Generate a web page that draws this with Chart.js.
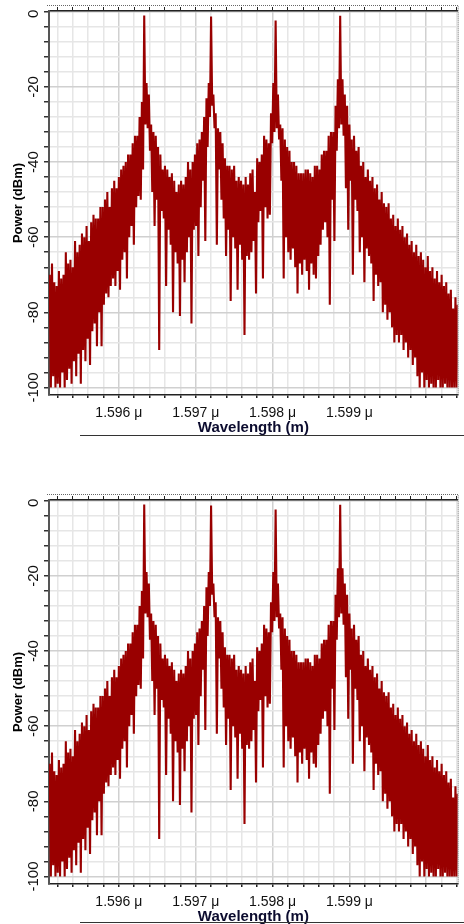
<!DOCTYPE html>
<html>
<head>
<meta charset="utf-8">
<script src="https://cdn.jsdelivr.net/npm/chart.js@4"></script>
<style>
  body { margin: 0; background: #fff; width: 464px; height: 924px; overflow: hidden; position: relative; }
  canvas { position: absolute; left: 0; }
  .rule { position: absolute; left: 80px; width: 384px; height: 1px; background: #333; }
</style>
</head>
<body>
<canvas id="chart1" width="464" height="435" style="top:0"></canvas>
<div class="rule" style="top:435px"></div>
<canvas id="chart2" width="464" height="435" style="top:489px"></canvas>
<div class="rule" style="top:922px"></div>
<script>
// spectrum: one sample every 0.00003 um starting at wlStart
// peakDb = top of each sample's excursion, dipDb = bottom of it (dBm)
const wlStart = 1.59510;
const wlStep = 0.00003;

const peakDb = [
  -70, -67, -72, -73, -69, -71, -70, -64, -67, -66,
  -68, -61, -64, -62, -59, -60, -57, -61, -56, -54,
  -55, -55, -52, -52, -50, -48, -52, -47, -45, -47,
  -44, -42, -41, -40, -38, -38, -35, -33, -33, -28,
  -24, -1, -19, -22, -30, -32, -33, -36, -38, -42,
  -41, -42, -44, -43, -45, -48, -46, -45, -46, -44,
  -40, -42, -40, -38, -35, -34, -32, -28, -23, -19,
  -1.3, -22, -27, -31, -32, -35, -39, -41, -41, -42,
  -41, -45, -44, -45, -46, -44, -46, -43, -42, -48,
  -39, -40, -38, -33, -34, -35, -27, -19, -2.3, -22,
  -30, -31, -34, -36, -37, -40, -40, -41, -43, -43,
  -43, -42, -42, -43, -44, -41, -41, -42, -38, -37,
  -37, -33, -32, -32, -25, -18, -1.1, -18, -22, -25,
  -30, -34, -33, -37, -36, -41, -40, -44, -42, -45,
  -44, -47, -46, -50, -48, -51, -52, -51, -55, -54,
  -57, -55, -58, -57, -60, -59, -62, -61, -64, -62,
  -65, -64, -66, -68, -65, -69, -68, -71, -69, -72,
  -70, -73, -72, -75, -74, -79, -76, -78
];

const dipDb = [
  -100, -97, -100, -99, -100, -96, -100, -98, -95, -99,
  -93, -97, -91, -99, -90, -93, -87, -94, -85, -83,
  -89, -80, -89, -78, -75, -76, -73, -71, -73, -69,
  -74, -66, -64, -71, -60, -57, -62, -52, -49, -50,
  -42, -30, -31, -37, -48, -57, -50, -90, -53, -55,
  -73, -58, -62, -80, -64, -67, -81, -66, -72, -64,
  -60, -83, -58, -57, -65, -52, -45, -61, -36, -28,
  -25, -31, -62, -42, -50, -55, -65, -58, -77, -60,
  -63, -74, -62, -66, -86, -65, -66, -64, -61, -75,
  -56, -53, -71, -52, -55, -54, -35, -32, -31, -34,
  -45, -71, -60, -64, -66, -63, -68, -75, -67, -70,
  -66, -69, -74, -67, -70, -71, -65, -62, -58, -56,
  -60, -78, -50, -61, -37, -31, -30, -33, -47, -58,
  -45, -70, -50, -53, -64, -60, -72, -63, -65, -67,
  -77, -70, -73, -72, -80, -78, -82, -80, -84, -88,
  -86, -88, -86, -90, -88, -92, -90, -94, -92, -97,
  -100, -96, -100, -98, -100, -99, -100, -100, -98, -100,
  -100, -99, -100, -100, -100, -100, -100, -100
];

const xTickValues = [1.596, 1.597, 1.598, 1.599];
const xTickLabels = ['1.596 μ', '1.597 μ', '1.598 μ', '1.599 μ'];
const yTickValues = [0, -20, -40, -60, -80, -100];

const xMin = 1.595091, xMax = 1.600409;
const yMin = -102, yMax = 0.2;

Chart.defaults.font.family = '"Liberation Sans", Arial, sans-serif';

// zig-zag between top and bottom of every sample, like the dense trace
function buildTrace() {
  let pts = [];
  peakDb.forEach(function(hi, i) {
    pts.push({ x: wlStart + i * wlStep, y: hi });
    pts.push({ x: wlStart + (i + 0.5) * wlStep, y: dipDb[i] });
  });
  return pts;
}

// grid positions: 0.0002 um and 4 dB
let xGrid = [];
for (let k = 7976; k <= 8002; k++) xGrid.push(k * 0.0002);
let yGrid = [];
for (let v = 0; v >= -100; v -= 4) yGrid.push(v);

function isMajorX(v) { return Math.abs(v * 1000 - Math.round(v * 1000)) < 1e-6; }

const framePlugin = {
  id: 'frame',
  afterDraw(chart) {
    const ctx = chart.ctx, a = chart.chartArea, ys = chart.scales.y;
    ctx.save();
    ctx.fillStyle = '#111';
    ctx.font = '15px "Liberation Sans", Arial, sans-serif';
    ctx.textAlign = 'center';
    ctx.textBaseline = 'middle';
    yTickValues.forEach(function(v) {
      ctx.save();
      ctx.translate(34, ys.getPixelForValue(v) + (v === 0 ? 2 : 0));
      ctx.rotate(-Math.PI / 2);
      ctx.fillText(String(v), 0, 0);
      ctx.restore();
    });
    // dotted outer frame (top and right)
    ctx.strokeStyle = '#666';
    ctx.lineWidth = 1;
    ctx.setLineDash([1, 1]);
    ctx.beginPath();
    ctx.moveTo(a.left - 2, a.top - 5.5);
    ctx.lineTo(a.right + 0.5, a.top - 5.5);
    ctx.lineTo(a.right + 0.5, a.bottom);
    ctx.stroke();
    ctx.restore();
  }
};

function makeChart(id) {
  new Chart(document.getElementById(id), {
    type: 'line',
    data: {
      datasets: [{
        data: buildTrace(),
        borderColor: '#990000',
        borderWidth: 2.1,
        pointRadius: 0,
        fill: false,
        tension: 0
      }]
    },
    options: {
      responsive: false,
      animation: false,
      events: [],
      parsing: false,
      layout: { padding: { left: 0, right: 5.5, top: 0, bottom: 0 } },
      plugins: { legend: { display: false }, tooltip: { enabled: false } },
      scales: {
        x: {
          type: 'linear', position: 'bottom', min: xMin, max: xMax,
          afterBuildTicks: s => { s.ticks = xGrid.map(v => ({ value: v })); },
          afterFit: s => { s.height = 40; },
          grid: { color: c => isMajorX(c.tick.value) ? '#d0d0d0' : '#e6e6e6', lineWidth: 1.5, tickLength: 3, tickColor: '#222' },
          border: { color: '#222', width: 1.5 },
          ticks: {
            autoSkip: false, maxRotation: 0, minRotation: 0, padding: 7, color: '#111',
            font: { size: 14 },
            callback: v => {
              const k = xTickValues.findIndex(t => Math.abs(t - v) < 1e-7);
              return k < 0 ? '' : xTickLabels[k];
            }
          },
          title: { display: true, text: 'Wavelength (m)', color: '#0b0b2e', font: { size: 15, weight: 'bold', lineHeight: 1 }, padding: 0 }
        },
        x2: {
          type: 'linear', position: 'top', min: xMin, max: xMax,
          afterBuildTicks: s => { s.ticks = xGrid.map(v => ({ value: v })); },
          afterFit: s => { s.height = 11; },
          grid: { drawOnChartArea: false, tickLength: 4, tickColor: '#222' },
          border: { color: '#222', width: 1.5 },
          ticks: { display: false }
        },
        y: {
          type: 'linear', min: yMin, max: yMax,
          afterBuildTicks: s => { s.ticks = yGrid.map(v => ({ value: v })); },
          afterFit: s => { s.width = 49; },
          grid: { color: c => (c.tick.value % 20 === 0) ? '#d0d0d0' : '#e6e6e6', lineWidth: 1.5, tickLength: 5, tickColor: '#333' },
          border: { color: '#555', width: 2 },
          ticks: { display: false },
          title: { display: true, text: 'Power (dBm)', color: '#000', font: { size: 13, weight: 'bold' }, padding: { top: 11, bottom: 0 } }
        }
      }
    },
    plugins: [framePlugin]
  });
}

makeChart('chart1');
makeChart('chart2');
</script>
</body>
</html>
